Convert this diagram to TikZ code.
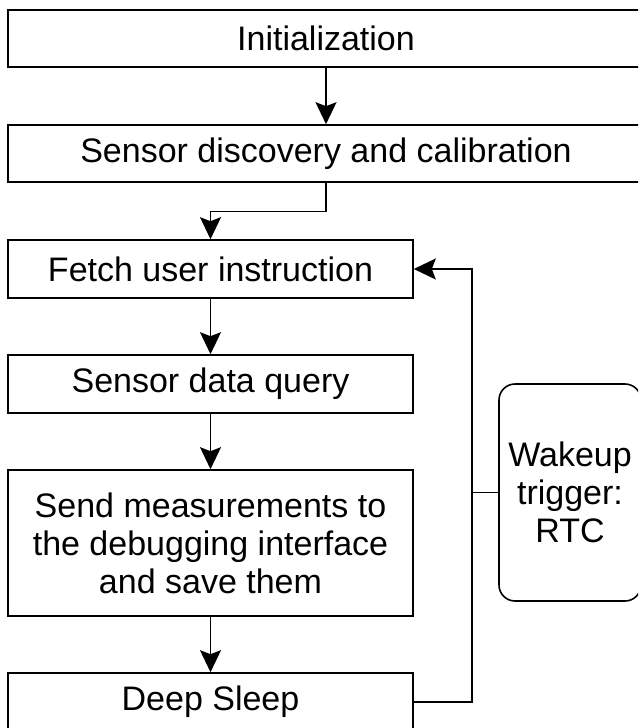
\documentclass[tikz,border=0pt]{standalone}
\usepackage{fontspec}
\setmainfont{Liberation Sans}
\usetikzlibrary{arrows.meta}
\tikzset{
  >={Stealth[length=22pt,width=21pt,inset=4pt]},
  x=1pt, y=-1pt,
}
\tikzstyle{every node}=[font=\fontsize{34}{38}\selectfont]
\tikzstyle{block}=[draw,line width=1.6pt,rectangle,inner sep=0pt,align=center]
\tikzstyle{trigger}=[block,rounded corners=16pt]
\tikzstyle{flow}=[line width=1.6pt,->]
\tikzstyle{wire}=[line width=1.6pt]

\begin{document}
\begin{tikzpicture}
    \useasboundingbox (0,0) rectangle (638,728);
    \clip (0,0) rectangle (638,728);
    \node[block,minimum width=636pt,minimum height=57pt] (init) at (326,38.5) {Initialization};
    \node[block,minimum width=636pt,minimum height=57pt] (disc) at (326,153.5) {Sensor discovery and calibration};
    \node[block,minimum width=405pt,minimum height=58pt] (fetch) at (210.5,269) {Fetch user instruction};
    \node[block,minimum width=405pt,minimum height=58pt] (query) at (210.5,384) {Sensor data query};
    \node[block,minimum width=405pt,minimum height=146pt] (send) at (210.5,543)
      {Send measurements to\\the debugging interface\\and save them};
    \node[block,minimum width=405pt,minimum height=58pt] (sleep) at (210.5,702) {Deep Sleep};
    \node[trigger,minimum width=142pt,minimum height=217pt] (wake) at (570,492.5) {Wakeup\\trigger:\\RTC};
    \coordinate (tap) at (471,492.5);
    \draw[flow] (init) -- (disc);
    \draw[flow] (disc.south) -- ++(0,28.5) -| (fetch.north);
    \draw[flow] (fetch) -- (query);
    \draw[flow] (query) -- (send);
    \draw[flow] (send) -- (sleep);
    \draw[flow] (sleep.east) -- ++(58,0) |- (fetch.east);
    \draw[wire] (wake.west) -- (tap);
  \end{tikzpicture}
\end{document}
